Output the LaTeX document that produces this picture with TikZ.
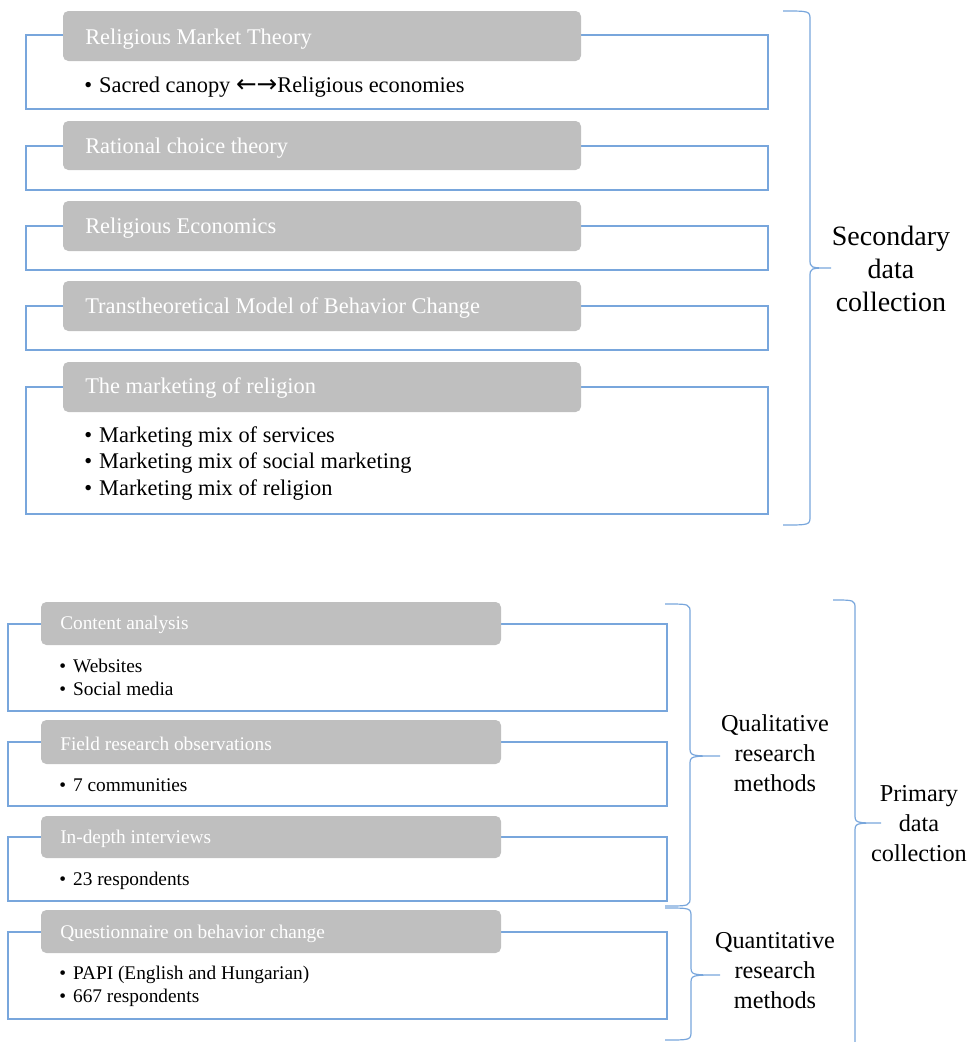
\documentclass[tikz,border=0pt]{standalone}
\usepackage{fontspec}
\setmainfont{Liberation Serif}
\newfontfamily\arrowfont{DejaVu Sans}
\definecolor{bl}{RGB}{120,166,220}
\definecolor{gr}{RGB}{191,191,191}
\newcommand\mybrace[6]{% x0 x1 x2 ytop ymid ybot
  \draw[brace] (#1,#4) .. controls (#2,#4) .. (#2,#4+9) -- (#2,#5-9) .. controls (#2,#5) .. (#3,#5)
    .. controls (#2,#5) .. (#2,#5+9) -- (#2,#6-9) .. controls (#2,#6) .. (#1,#6);}
\newcommand\bl{\textbullet\hspace{5.3pt}}
\begin{document}
\begin{tikzpicture}[x=0.75pt,y=-0.75pt,
  outer/.style={draw=bl,line width=0.9pt},
  head/.style={fill=gr,rounded corners=4pt},
  brace/.style={draw=bl,line width=0.9pt},
  htextA/.style={anchor=west,text=white,font=\fontsize{16.8}{19}\selectfont,inner sep=0pt},
  btextA/.style={anchor=west,font=\fontsize{16.8}{19}\selectfont,inner sep=0pt},
  htextB/.style={anchor=west,text=white,font=\fontsize{14.5}{17}\selectfont,inner sep=0pt},
  btextB/.style={anchor=west,font=\fontsize{14.5}{17}\selectfont,inner sep=0pt},
  lab/.style={align=center,inner sep=0pt},
]
\useasboundingbox (0,0) rectangle (978,1042);
% ---------- upper part ----------
\draw[outer] (26,35) rectangle (768,109);
\draw[outer] (26,146) rectangle (768,190);
\draw[outer] (26,226) rectangle (768,270);
\draw[outer] (26,306) rectangle (768,350);
\draw[outer] (26,387) rectangle (768,514);
\fill[head] (63,11) rectangle (581,61);
\fill[head] (63,121) rectangle (581,170);
\fill[head] (63,201) rectangle (581,251);
\fill[head] (63,281) rectangle (581,331);
\fill[head] (63,362) rectangle (581,412);
\node[htextA] (h1) at (85,39) {Religious Market Theory};
\node[htextA] (h2) at (85,148) {Rational choice theory};
\node[htextA] (h3) at (85,228) {Religious Economics};
\node[htextA] (h4) at (85,308) {Transtheoretical Model of Behavior Change};
\node[htextA] (h5) at (85,388) {The marketing of religion};
\node[btextA] (b1) at (84,87) {\bl Sacred canopy {\arrowfont\fontsize{18.5}{19}\selectfont ←→}Religious economies};
\node[btextA] (b5a) at (84,437) {\bl Marketing mix of services};
\node[btextA] (b5b) at (84,463) {\bl Marketing mix of social marketing};
\node[btextA] (b5c) at (84,490) {\bl Marketing mix of religion};
\mybrace{783}{810}{831}{11}{268}{525}
\node[lab,font=\fontsize{21}{24.75}\selectfont] (sec) at (891,269) {Secondary\\data\\collection};
% ---------- lower part ----------
\draw[outer] (8,624) rectangle (667,711);
\draw[outer] (8,742) rectangle (667,806);
\draw[outer] (8,837) rectangle (667,901);
\draw[outer] (8,932) rectangle (667,1019);
\fill[head] (41,602) rectangle (501,645);
\fill[head] (41,720) rectangle (501,764);
\fill[head] (41,816) rectangle (501,858);
\fill[head] (41,910) rectangle (501,953);
\node[htextB] (c1) at (60,625) {Content analysis};
\node[htextB] (c2) at (60,744) {Field research observations};
\node[htextB] (c3) at (60,839) {In-depth interviews};
\node[htextB] (c4) at (60,934) {Questionnaire on behavior change};
\node[btextB] (d1a) at (59,666) {\bl Websites};
\node[btextB] (d1b) at (59,689) {\bl Social media};
\node[btextB] (d2) at (59,785) {\bl 7 communities};
\node[btextB] (d3) at (59,881) {\bl 23 respondents};
\node[btextB] (d4a) at (59,975) {\bl PAPI (English and Hungarian)};
\node[btextB] (d4b) at (59,998) {\bl 667 respondents};
\mybrace{665}{690}{720}{604}{756}{906}
\mybrace{665}{691}{720}{908}{975}{1040}
\mybrace{833}{855}{881}{600}{823}{1058}
\node[lab,font=\fontsize{18.2}{22.5}\selectfont] (qual) at (775,753) {Qualitative\\research\\methods};
\node[lab,font=\fontsize{18.2}{22.5}\selectfont] (quan) at (775,971) {Quantitative\\research\\methods};
\node[lab,font=\fontsize{18.2}{22.5}\selectfont] (prim) at (919,824) {Primary\\data\\collection};
\end{tikzpicture}
\end{document}
